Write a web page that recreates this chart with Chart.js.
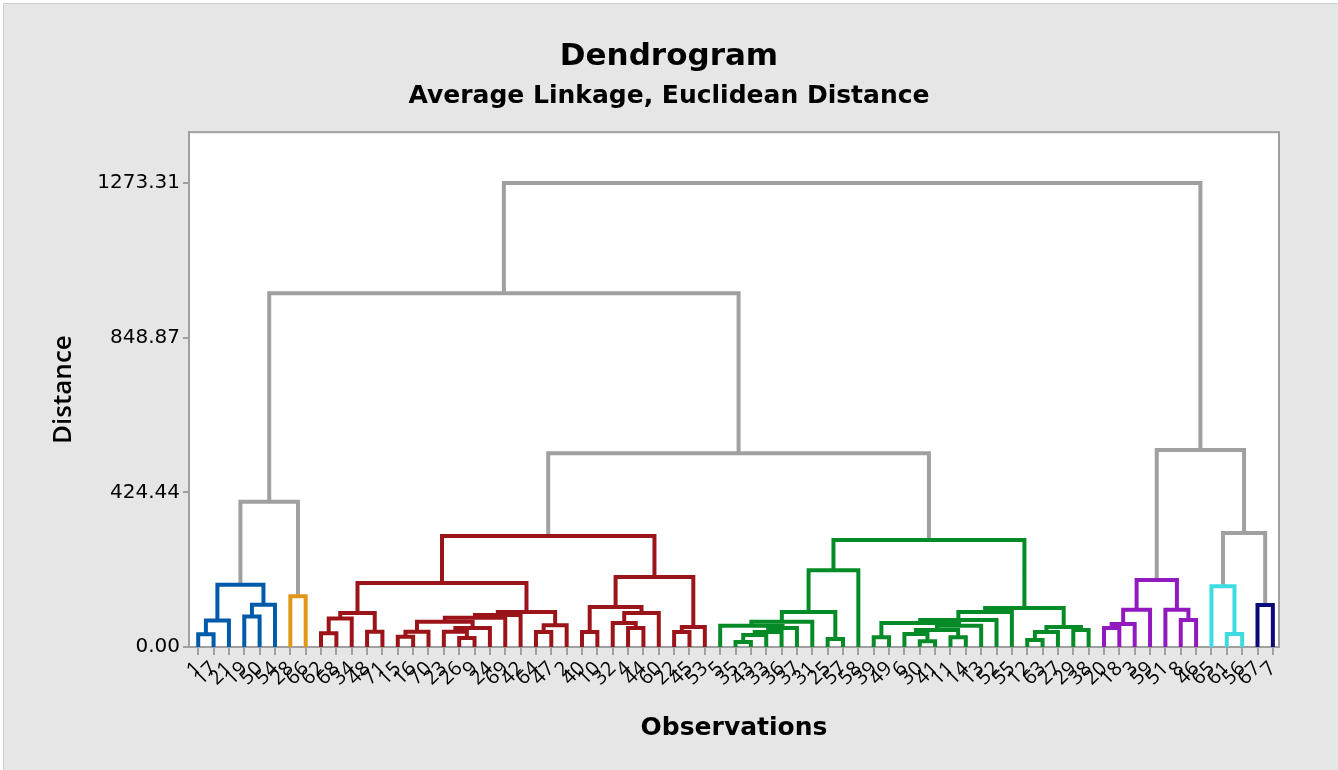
<!DOCTYPE html>
<html>
<head>
<meta charset="utf-8">
<script src="https://cdn.jsdelivr.net/npm/chart.js@4"></script>
<style>
  body { margin: 0; background: #fff; }
  canvas { display: block; }
</style>
</head>
<body>
<canvas id="dendro" width="1338" height="770"></canvas>
<script>
// observation number shown under each leaf, left to right
const leafLabels = [
  "1", "17", "21", "19", "50", "54", "28", "66", "62", "68", "34", "48", "71", "15", "16", "70",
  "23", "26", "9", "24", "69", "42", "64", "47", "2", "40", "10", "32", "4", "44", "60", "22",
  "45", "53", "5", "35", "43", "33", "36", "37", "31", "25", "57", "58", "39", "49", "6", "30",
  "41", "11", "14", "13", "52", "55", "12", "63", "27", "29", "38", "20", "18", "3", "59", "51",
  "8", "46", "65", "61", "56", "67", "7"
];

// clusters: how many consecutive leaves each one takes, and its colour
const clusterSizes = [6, 2, 26, 25, 7, 3, 2];
const clusterColors = ["#005AAA", "#E1961A", "#9B1419", "#058A28", "#9119BE", "#3CDCE1", "#0A0A78"];
const linkColor = "#A0A0A0";

const yTicks = [0, 424.44, 848.87, 1273.31];

// merges: [name, left, right, distance]; numbers are leaf positions, strings earlier merges
const merges = [
  ["b1", 0, 1, 35], ["b2", "b1", 2, 73], ["b3", 3, 4, 84], ["b4", "b3", 5, 116],
  ["b5", "b2", "b4", 171], ["o1", 6, 7, 139], ["g1", "b5", "o1", 399],

  ["r1", 8, 9, 38], ["r2", "r1", 10, 78], ["r3", 11, 12, 42], ["r4", "r2", "r3", 93],
  ["r5", 13, 14, 28], ["r6", "r5", 15, 42], ["r7", 17, 18, 25], ["r8", 16, "r7", 42],
  ["r9", "r8", 19, 52], ["r10", "r6", "r9", 69], ["r11", "r10", 20, 80], ["r12", "r11", 21, 88],
  ["r13", 22, 23, 41], ["r14", "r13", 24, 60], ["r15", "r12", "r14", 96], ["rL", "r4", "r15", 176],
  ["r16", 25, 26, 41], ["r17", 28, 29, 52], ["r18", 27, "r17", 66], ["r19", "r18", 30, 93],
  ["r20", "r16", "r19", 110], ["r21", 31, 32, 41], ["r22", "r21", 33, 55], ["r23", "r20", "r22", 192],
  ["r24", "rL", "r23", 305],

  ["G1", 35, 36, 14], ["G2", "G1", 37, 33], ["G3", "G2", 38, 41], ["G4", "G3", 39, 52],
  ["G5", 34, "G4", 58], ["G6", "G5", 40, 69], ["G6b", 41, 42, 22], ["G7", "G6", "G6b", 96],
  ["G8", "G7", 43, 211],
  ["GG1", 44, 45, 27], ["H1", 47, 48, 16], ["H2", 46, "H1", 36], ["H3", 49, 50, 27],
  ["H4", "H2", "H3", 47], ["H5", "H4", 51, 58], ["H6", "GG1", "H5", 66], ["H7", "H6", 52, 74],
  ["H8", "H7", 53, 96], ["R1", 54, 55, 19], ["R2", "R1", 56, 41], ["R3", 57, 58, 47],
  ["R4", "R2", "R3", 55], ["H9", "H8", "R4", 107], ["Gtop", "G8", "H9", 294],

  ["X1", "r24", "Gtop", 532], ["X2", "g1", "X1", 971],

  ["P1", 59, 60, 52], ["P2", "P1", 61, 63], ["P3", "P2", 62, 102], ["P4", 64, 65, 74],
  ["P5", 63, "P4", 102], ["P6", "P3", "P5", 184],
  ["C1", 67, 68, 36], ["C2", 66, "C1", 167], ["N1", 69, 70, 115],
  ["Y1", "C2", "N1", 313], ["Y2", "P6", "Y1", 541],
  ["root", "X2", "Y2", 1273.31]
];

const FONT = "'Open Sans', 'Noto Sans', sans-serif";
const WIDE = "'DejaVu Sans', 'Open Sans', sans-serif";

const leafCluster = [];
clusterSizes.forEach((n, c) => {
  for (let i = 0; i < n; i++) leafCluster.push(c);
});

// build one U-shaped link per merge
const nodes = {};
function nodeInfo(ref) {
  if (typeof ref === "number") return { x: ref, h: 0, clusters: new Set([leafCluster[ref]]) };
  return nodes[ref];
}
const datasets = [];
merges.forEach(([name, a, b, h]) => {
  const na = nodeInfo(a);
  const nb = nodeInfo(b);
  const clusters = new Set([...na.clusters, ...nb.clusters]);
  const color = clusters.size === 1 ? clusterColors[[...clusters][0]] : linkColor;
  nodes[name] = { x: (na.x + nb.x) / 2, h, clusters };
  datasets.push({
    data: [
      { x: na.x, y: na.h },
      { x: na.x, y: h },
      { x: nb.x, y: h },
      { x: nb.x, y: nb.h },
    ],
    borderColor: color,
    borderWidth: 4,
    showLine: true,
    pointRadius: 0,
    borderJoinStyle: "miter",
    borderCapStyle: "butt",
  });
});

const framePlugin = {
  id: "frame",
  beforeDraw(chart) {
    const { ctx, chartArea: a, width, height } = chart;
    ctx.save();
    ctx.fillStyle = "#fff";
    ctx.fillRect(0, 0, width, height);
    ctx.fillStyle = "#E6E6E6";
    ctx.fillRect(3, 3, width - 3, height - 3);
    ctx.strokeStyle = "#CDCDCD";
    ctx.lineWidth = 1;
    ctx.strokeRect(3.5, 3.5, width - 3, height - 3);
    ctx.fillStyle = "#fff";
    ctx.fillRect(a.left, a.top, a.right - a.left, a.bottom - a.top);
    ctx.strokeStyle = "#A0A0A0";
    ctx.lineWidth = 2;
    ctx.strokeRect(a.left, a.top, a.right - a.left, a.bottom - a.top);
    ctx.restore();
  },
};

new Chart(document.getElementById("dendro"), {
  type: "scatter",
  data: { datasets },
  plugins: [framePlugin],
  options: {
    responsive: false,
    animation: false,
    layout: { padding: 0 },
    plugins: {
      legend: { display: false },
      tooltip: { enabled: false },
      title: {
        display: true,
        text: "Dendrogram",
        color: "#000",
        font: { family: WIDE, size: 31, weight: "bold" },
        padding: { top: 38, bottom: 6 },
      },
      subtitle: {
        display: true,
        text: "Average Linkage, Euclidean Distance",
        color: "#000",
        font: { family: WIDE, size: 25, weight: "bold" },
        padding: { top: 0, bottom: 21 },
      },
    },
    scales: {
      x: {
        type: "linear",
        min: -0.6,
        max: 70.4,
        afterBuildTicks: (s) => {
          s.ticks = leafLabels.map((_, i) => ({ value: i }));
        },
        afterFit: (s) => {
          s.height = 123;
        },
        ticks: {
          autoSkip: false,
          minRotation: 45,
          maxRotation: 45,
          color: "#000",
          padding: 2,
          font: { family: FONT, size: 20 },
          callback: (v, i) => leafLabels[i],
        },
        grid: { drawOnChartArea: false, tickLength: 8, color: "#A0A0A0", lineWidth: 2 },
        border: { color: "#A0A0A0", width: 2 },
        title: {
          display: true,
          text: "Observations",
          color: "#000",
          font: { family: WIDE, size: 25, weight: "bold" },
          padding: { top: 0, bottom: 27 },
        },
      },
      y: {
        min: 0,
        max: 1413,
        afterBuildTicks: (s) => {
          s.ticks = yTicks.map((v) => ({ value: v }));
        },
        afterFit: (s) => {
          s.width = 189;
        },
        ticks: {
          color: "#000",
          padding: 3,
          font: { family: WIDE, size: 20 },
          callback: (v) => v.toFixed(2),
        },
        grid: { drawOnChartArea: false, tickLength: 6, color: "#A0A0A0", lineWidth: 2 },
        border: { color: "#A0A0A0", width: 2 },
        title: {
          display: true,
          text: "Distance",
          color: "#000",
          font: { family: FONT, size: 26, weight: "600" },
          padding: { top: 48, bottom: 0 },
        },
      },
      // empty strip on the right so the titles centre on the whole canvas
      pad: {
        position: "right",
        display: true,
        afterFit: (s) => {
          s.width = 59;
        },
        ticks: { display: false },
        grid: { display: false },
        border: { display: false },
      },
    },
  },
});
</script>
</body>
</html>
